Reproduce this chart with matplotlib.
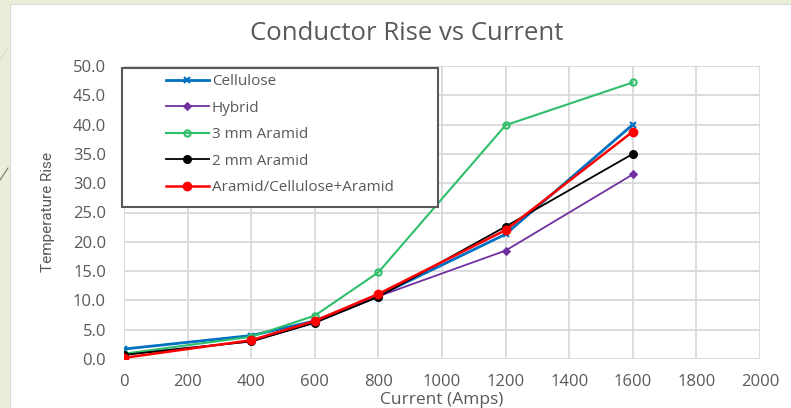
import matplotlib
matplotlib.use("Agg")
import matplotlib.pyplot as plt
from matplotlib.patches import Rectangle

# Data
current = [0, 400, 600, 800, 1200, 1600]
cellulose = [1.7, 4.0, 6.5, 10.8, 21.3, 40.0]
hybrid = [0.8, 3.0, 6.2, 10.7, 18.5, 31.5]
aramid_3mm = [0.9, 3.8, 7.4, 14.8, 39.9, 47.2]
aramid_2mm = [0.7, 3.0, 6.2, 10.6, 22.6, 35.0]
aramid_cell = [0.2, 3.2, 6.5, 11.1, 22.0, 38.8]

x_ticks = [0, 200, 400, 600, 800, 1000, 1200, 1400, 1600, 1800, 2000]
y_ticks = [0, 5, 10, 15, 20, 25, 30, 35, 40, 45, 50]

W, H = 791, 408
GREY = '#595959'

plt.rcParams['font.family'] = ['Open Sans', 'DejaVu Sans']

fig = plt.figure(figsize=(W / 100, H / 100), dpi=100)
fig.patch.set_facecolor('#e9eed9')

# white chart area on the slide
fig.patches.append(Rectangle((10 / W, 0), 1, 1 - 4 / H, transform=fig.transFigure,
                             facecolor='white', edgecolor='#d9d9d9', lw=0.8, zorder=-5))
# slide decoration lines at the left edge
fig.add_artist(plt.Line2D([0, 8 / W], [1 - 180 / H, 1 - 168 / H], transform=fig.transFigure,
                          color='#7a7560', lw=0.8))
fig.add_artist(plt.Line2D([0, 8 / W], [1 - 60 / H, 1 - 48 / H], transform=fig.transFigure,
                          color='#d5dcc0', lw=0.8))

ax = fig.add_axes([124 / W, 49 / H, 636 / W, 293 / H])
ax.set_facecolor('white')

series = [
    ("Cellulose", cellulose, '#0070c0', 'x', 4, 2.0, 'full'),
    ("Hybrid", hybrid, '#7030a0', 'D', 3.3, 1.3, 'full'),
    ("3 mm Aramid", aramid_3mm, '#2fbf6a', 'o', 4.5, 1.5, 'none'),
    ("2 mm Aramid", aramid_2mm, '#000000', 'o', 5, 1.3, 'full'),
    ("Aramid/Cellulose+Aramid", aramid_cell, '#ff0000', 'o', 5.5, 1.8, 'full'),
]
handles = []
for label, vals, color, marker, ms, lw, fill in series:
    h, = ax.plot(current, vals, color=color, marker=marker, markersize=ms, lw=lw,
                 fillstyle=fill, markerfacecolor=('white' if fill == 'none' else color),
                 markeredgewidth=1.5, label=label, zorder=3)
    handles.append(h)

ax.set_xlim(0, 2000)
ax.set_ylim(0, 50)
ax.set_xticks(x_ticks)
ax.set_yticks(y_ticks)
ax.set_yticklabels([f"{v:.1f}" for v in y_ticks])
ax.grid(True, color='#d9d9d9', lw=1.3)
ax.set_axisbelow(True)
for s in ax.spines.values():
    s.set_visible(False)
ax.tick_params(length=0, colors=GREY, labelsize=12)
ax.tick_params(axis='x', pad=11)
ax.tick_params(axis='y', pad=13)

fig.text(407 / W, 1 - 33 / H, "Conductor Rise vs Current", fontsize=18.5,
         color=GREY, ha='center', va='center')
ax.set_xlabel("Current (Amps)", fontsize=12.5, color=GREY, labelpad=1)
ax.set_ylabel("Temperature Rise", fontsize=11, color=GREY,
              family=['Roboto', 'DejaVu Sans'], labelpad=13)

# legend box overlapping the plot
fig.patches.append(Rectangle((122 / W, 1 - 207 / H), 316 / W, 139 / H, transform=fig.transFigure,
                             facecolor='white', edgecolor=GREY, lw=1.5, zorder=4))
leg = fig.legend(handles=handles, loc='upper left', bbox_to_anchor=(166 / W, 1 - 74 / H),
                 frameon=False, fontsize=11, labelcolor=GREY, handlelength=2.8,
                 borderpad=0, labelspacing=0.76, borderaxespad=0, handletextpad=0.2)
leg.set_zorder(5)

fig.savefig("out.png", dpi=100, facecolor=fig.get_facecolor())
